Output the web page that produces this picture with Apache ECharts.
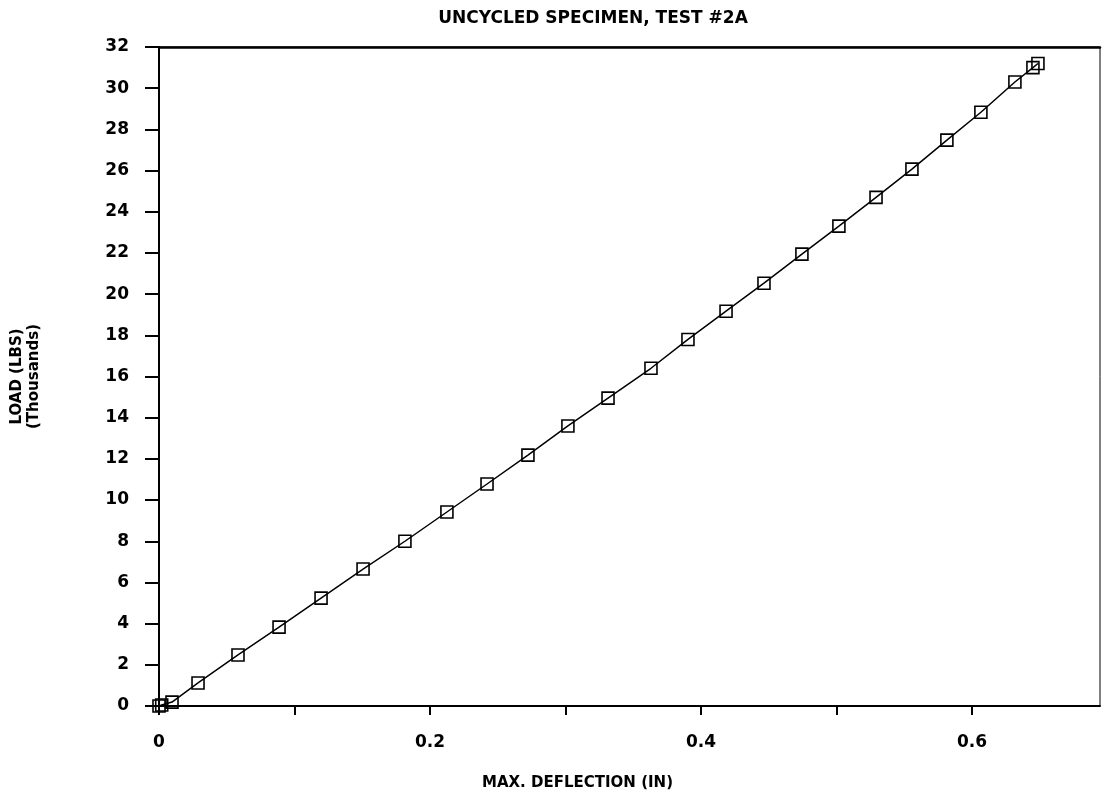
<!DOCTYPE html>
<html>
<head>
<meta charset="utf-8">
<title>Uncycled specimen, test #2A</title>
<script src="https://cdn.jsdelivr.net/npm/echarts@6/dist/echarts.min.js"></script>
<style>
  html, body { margin: 0; padding: 0; background: #fff; }
  #chart { width: 1103px; height: 794px; }
</style>
</head>
<body>
<div id="chart"></div>
<script>
// valeurs (flèche max en pouces, charge en milliers de lbs)
const deflection = [0, 0.002, 0.0096, 0.0288, 0.0583, 0.0886, 0.1196, 0.1506, 0.1815, 0.2125,
    0.2421, 0.2723, 0.3018, 0.3314, 0.3631, 0.3904, 0.4185, 0.4465, 0.4745, 0.5018,
    0.5292, 0.5557, 0.5815, 0.6066, 0.6317, 0.645, 0.6487];
const load = [0, 0.05, 0.19, 1.12, 2.48, 3.83, 5.24, 6.65, 8.0, 9.42,
    10.78, 12.18, 13.6, 14.95, 16.4, 17.8, 19.17, 20.53, 21.94, 23.3,
    24.7, 26.07, 27.48, 28.83, 30.3, 31.0, 31.2];
const xLabels = ['0', '0.2', '0.4', '0.6'];

let chart;

window.onload = init;

function init() {
    chart = echarts.init(document.getElementById('chart'));

    const points = deflection.map((d, i) => [d, load[i]]);
    const police = 'DejaVu Sans';

    const options = {
        animation: false,
        backgroundColor: '#fff',
        title: {
            text: 'UNCYCLED SPECIMEN, TEST #2A',
            left: 588,
            top: 5,
            textAlign: 'center',
            textStyle: { fontFamily: police, fontSize: 17, fontWeight: 'bold', color: '#000' }
        },
        grid: {
            left: 159,
            right: 3,
            top: 47,
            bottom: 88,
            outerBoundsMode: 'none',
            containLabel: false,
            show: true,
            borderColor: '#000',
            borderWidth: 1
        },
        xAxis: [
            {
                type: 'value',
                min: 0,
                max: 0.6945,
                interval: 0.1,
                name: 'MAX. DEFLECTION (IN)',
                nameLocation: 'middle',
                nameGap: 70,
                nameTextStyle: {
                    fontFamily: police, fontSize: 15, fontWeight: 'bold', color: '#000',
                    padding: [0, 104, 0, 0]
                },
                axisLine: { lineStyle: { color: '#000', width: 2 } },
                axisTick: { show: true, length: 9, lineStyle: { color: '#000', width: 2 } },
                splitLine: { show: false },
                axisLabel: {
                    showMaxLabel: false,
                    margin: 28,
                    fontFamily: police, fontSize: 17, fontWeight: 'bold', color: '#000',
                    formatter: function (v) {
                        const k = Math.round(v * 10);
                        return k % 2 === 0 ? xLabels[k / 2] : '';
                    }
                }
            },
            {
                // bord supérieur épais du cadre
                type: 'value',
                position: 'top',
                min: 0,
                max: 0.6945,
                axisLine: { show: true, lineStyle: { color: '#000', width: 2.5 } },
                axisTick: { show: false },
                axisLabel: { show: false },
                splitLine: { show: false }
            }
        ],
        yAxis: {
            type: 'value',
            min: 0,
            max: 32,
            interval: 2,
            name: 'LOAD (LBS)\n(Thousands)',
            nameLocation: 'middle',
            nameGap: 116,
            nameRotate: 90,
            nameTextStyle: {
                fontFamily: police, fontSize: 15, fontWeight: 'bold', color: '#000', lineHeight: 17
            },
            axisLine: { show: true, lineStyle: { color: '#000', width: 2 } },
            axisTick: { show: true, length: 14, lineStyle: { color: '#000', width: 2 } },
            splitLine: { show: false },
            axisLabel: {
                margin: 30,
                fontFamily: police, fontSize: 17, fontWeight: 'bold', color: '#000'
            }
        },
        series: [
            {
                type: 'line',
                data: points,
                symbol: 'rect',
                symbolSize: 12,
                showAllSymbol: true,
                lineStyle: { color: '#000', width: 1.5 },
                itemStyle: { color: 'rgba(0,0,0,0)', borderColor: '#000', borderWidth: 1.6 }
            }
        ]
    };

    chart.setOption(options);
}
</script>
</body>
</html>
